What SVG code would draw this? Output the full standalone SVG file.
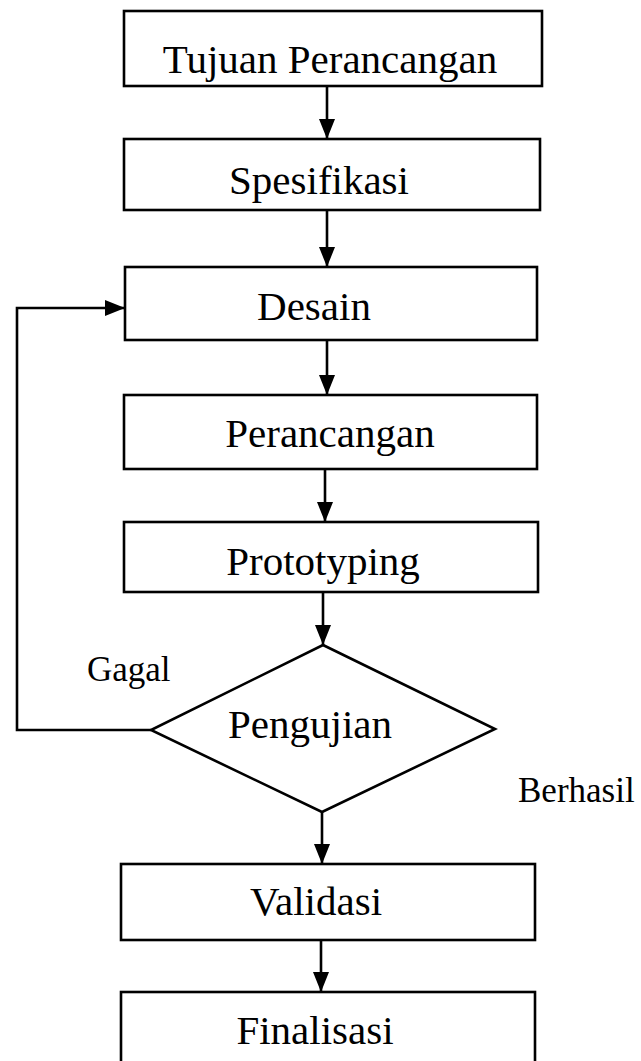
<svg xmlns="http://www.w3.org/2000/svg" width="641" height="1061" viewBox="0 0 641 1061">
<style>
.box{fill:#fff;stroke:#000;stroke-width:2.6}
.lbl{font-family:"Liberation Serif","Times New Roman",serif;font-size:41px;fill:#000;text-anchor:middle}
.side{font-family:"Liberation Serif","Times New Roman",serif;font-size:35px;fill:#000}
.conn{fill:none;stroke:#000;stroke-width:2.6}
</style>
<defs>
<marker id="arr" markerUnits="userSpaceOnUse" markerWidth="20" markerHeight="16" refX="20" refY="8" orient="auto">
<path d="M0,0 L20,8 L0,16 z" fill="#000"/>
</marker>
</defs>
<rect width="641" height="1061" fill="#fff"/>
<g id="connectors">
<line class="conn" x1="327" y1="86" x2="327" y2="139" marker-end="url(#arr)"/>
<line class="conn" x1="327" y1="210" x2="327" y2="267" marker-end="url(#arr)"/>
<line class="conn" x1="327" y1="340" x2="327" y2="395" marker-end="url(#arr)"/>
<line class="conn" x1="325" y1="469" x2="325" y2="522" marker-end="url(#arr)"/>
<line class="conn" x1="323" y1="592" x2="323" y2="645" marker-end="url(#arr)"/>
<line class="conn" x1="322" y1="812" x2="322" y2="864" marker-end="url(#arr)"/>
<line class="conn" x1="321" y1="940" x2="321" y2="992" marker-end="url(#arr)"/>
<polyline class="conn" points="151,730 17,730 17,308 125,308" marker-end="url(#arr)"/>
</g>
<g id="tujuan">
<rect class="box" x="124" y="11" width="418" height="75"/>
<text class="lbl" x="330" y="73">Tujuan Perancangan</text>
</g>
<g id="spesifikasi">
<rect class="box" x="124" y="139" width="416" height="71"/>
<text class="lbl" x="319" y="194">Spesifikasi</text>
</g>
<g id="desain">
<rect class="box" x="125" y="267" width="412" height="73"/>
<text class="lbl" x="314" y="320">Desain</text>
</g>
<g id="perancangan">
<rect class="box" x="124" y="395" width="413" height="74"/>
<text class="lbl" x="330" y="447">Perancangan</text>
</g>
<g id="prototyping">
<rect class="box" x="124" y="522" width="414" height="70"/>
<text class="lbl" x="323" y="575">Prototyping</text>
</g>
<g id="pengujian">
<polygon class="box" points="323,645 495,729 322,812 151,730"/>
<text class="lbl" x="310" y="738">Pengujian</text>
</g>
<g id="validasi">
<rect class="box" x="121" y="864" width="414" height="76"/>
<text class="lbl" x="316" y="915">Validasi</text>
</g>
<g id="finalisasi">
<rect class="box" x="121" y="992" width="414" height="80"/>
<text class="lbl" x="315" y="1044">Finalisasi</text>
</g>
<g id="labels">
<text class="side" x="87" y="681">Gagal</text>
<text class="side" x="518" y="802">Berhasil</text>
</g>
</svg>
